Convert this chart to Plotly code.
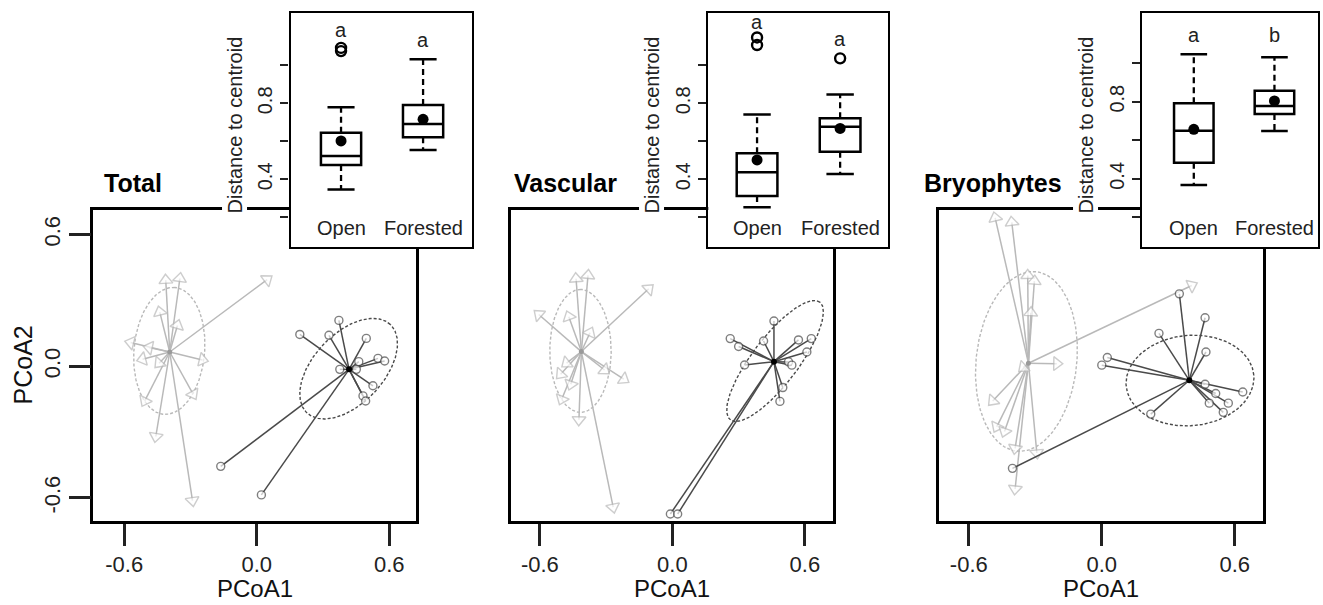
import numpy as np
import plotly.graph_objects as go

W, H = 1323, 605

panel_titles = ["Total", "Vascular", "Bryophytes"]
groups = ["Open", "Forested"]

# ---------------- PCoA scores ----------------
# Total
total_open_centroid = [-0.394, 0.065]
total_open_x = [-0.412, -0.348, 0.047, -0.439, -0.359, -0.571, -0.487, -0.517, -0.442, -0.246, -0.288, -0.507, -0.457, -0.291]
total_open_y = [0.392, 0.400, 0.395, 0.247, 0.186, 0.108, 0.085, 0.032, 0.014, 0.029, -0.127, -0.158, -0.320, -0.612]
total_for_centroid = [0.418, -0.014]
total_for_x = [0.372, 0.195, 0.327, 0.496, 0.462, 0.549, 0.579, 0.376, 0.451, 0.526, 0.481, 0.493, -0.163, 0.021]
total_for_y = [0.209, 0.145, 0.141, 0.127, 0.021, 0.036, 0.024, -0.014, -0.014, -0.089, -0.135, -0.158, -0.456, -0.586]
# ellipse: centre x, centre y, semi-major, semi-minor, angle (deg)
total_open_ellipse = [-0.396, 0.070, 0.29, 0.16, 85]
total_for_ellipse = [0.416, -0.011, 0.276, 0.159, 47]

# Vascular
vasc_open_centroid = [-0.412, 0.067]
vasc_open_x = [-0.436, -0.382, -0.107, -0.605, -0.469, -0.373, -0.479, -0.506, -0.307, -0.220, -0.460, -0.501, -0.423, -0.268]
vasc_open_y = [0.399, 0.414, 0.353, 0.236, 0.226, 0.153, 0.014, -0.036, -0.017, -0.059, -0.082, -0.150, -0.244, -0.642]
vasc_for_centroid = [0.460, 0.021]
vasc_for_x = [0.460, 0.262, 0.300, 0.413, 0.571, 0.629, 0.609, 0.526, 0.541, 0.327, 0.500, 0.487, -0.009, 0.024]
vasc_for_y = [0.206, 0.126, 0.090, 0.115, 0.120, 0.126, 0.065, 0.020, 0.005, 0.006, -0.097, -0.160, -0.673, -0.673]
vasc_open_ellipse = [-0.416, 0.070, 0.28, 0.139, 90]
vasc_for_ellipse = [0.465, 0.024, 0.336, 0.105, 53]

# Bryophytes
bryo_open_centroid = [-0.331, 0.014]
bryo_open_x = [-0.481, -0.406, -0.334, -0.304, -0.320, 0.406, -0.203, -0.354, -0.492, -0.474, -0.439, -0.391, -0.293, -0.391]
bryo_open_y = [0.676, 0.656, 0.414, 0.388, 0.244, 0.368, 0.012, -0.006, -0.158, -0.276, -0.297, -0.374, -0.395, -0.559]
bryo_for_centroid = [0.395, -0.064]
bryo_for_x = [0.350, 0.466, 0.258, 0.470, 0.025, 0.000, 0.466, 0.514, 0.636, 0.485, 0.571, 0.548, 0.221, -0.403]
bryo_for_y = [0.330, 0.221, 0.150, 0.065, 0.040, 0.005, -0.082, -0.124, -0.117, -0.168, -0.168, -0.210, -0.218, -0.465]
bryo_open_ellipse = [-0.340, 0.022, 0.411, 0.227, 84]
bryo_for_ellipse = [0.398, -0.065, 0.289, 0.206, 5]

# ---------------- distance-to-centroid boxplots ----------------
total_lower = [0.347, 0.554]
total_q1 = [0.475, 0.621]
total_median = [0.523, 0.691]
total_q3 = [0.645, 0.791]
total_upper = [0.779, 1.032]
total_mean = [0.602, 0.716]
total_outliers_open = [1.075, 1.092]
total_outliers_for = []
total_letters = ["a", "a"]
total_letter_y = [1.186, 1.133]

vasc_lower = [0.253, 0.428]
vasc_q1 = [0.312, 0.545]
vasc_median = [0.437, 0.677]
vasc_q3 = [0.537, 0.721]
vasc_upper = [0.742, 0.847]
vasc_mean = [0.502, 0.668]
vasc_outliers_open = [1.107, 1.147]
vasc_outliers_for = [1.037]
vasc_letters = ["a", "a"]
vasc_letter_y = [1.228, 1.138]

bryo_lower = [0.368, 0.648]
bryo_q1 = [0.484, 0.736]
bryo_median = [0.650, 0.778]
bryo_q3 = [0.792, 0.857]
bryo_upper = [1.046, 1.030]
bryo_mean = [0.657, 0.804]
bryo_outliers_open = []
bryo_outliers_for = []
bryo_letters = ["a", "b"]
bryo_letter_y = [1.146, 1.146]

main_ticks = [-0.6, 0.0, 0.6]
main_ticktext = ["-0.6", "0.0", "0.6"]
inset_ticks = [0.2, 0.4, 0.6, 0.8, 1.0]
inset_ticktext = ["", "0.4", "", "0.8", ""]

# ---------------- layout geometry ----------------
def px_x(a, b):
    return [a / W, b / W]

def px_y(top, bottom):
    return [1 - bottom / H, 1 - top / H]

main_xdom = [px_x(93.3, 416), px_x(510.7, 832.7), px_x(939.3, 1262.7)]
main_ydom = px_y(210, 521)
main_xrange = [[-0.740, 0.721], [-0.732, 0.726], [-0.733, 0.726]]
main_yrange = [-0.705, 0.712]

inset_xdom = [px_x(290.5, 472.3), px_x(708.3, 888.3), px_x(1141.7, 1318)]
inset_ydom = px_y(13.3, 247)
inset_xrange = [[0.384, 2.60], [0.413, 2.58], [0.354, 2.54]]
inset_yrange = [[0.044, 1.274], [0.044, 1.274], [0.047, 1.258]]
inset_label_y = [0.145, 0.145, 0.147]
ytitle_px = [235, 652, 1086]
title_left_px = [101.7, 511.7, 921.7]

OPEN_COL = "#b9b9b9"
FOR_COL = "#4a4a4a"
FONT = "Arial, Liberation Sans, sans-serif"

fig = go.Figure()

def ellipse_xy(p):
    cx, cy, a, b, ang = p
    t = np.linspace(0, 2 * np.pi, 241)
    th = np.deg2rad(ang)
    x = cx + a * np.cos(t) * np.cos(th) - b * np.sin(t) * np.sin(th)
    y = cy + a * np.cos(t) * np.sin(th) + b * np.sin(t) * np.cos(th)
    return x, y

def spokes(c, xs, ys, size):
    X, Y, S = [], [], []
    for x, y in zip(xs, ys):
        X += [c[0], x, None]
        Y += [c[1], y, None]
        S += [0, size, 0]
    return X, Y, S

panels = [
    (total_open_centroid, total_open_x, total_open_y, total_for_centroid, total_for_x, total_for_y,
     total_open_ellipse, total_for_ellipse),
    (vasc_open_centroid, vasc_open_x, vasc_open_y, vasc_for_centroid, vasc_for_x, vasc_for_y,
     vasc_open_ellipse, vasc_for_ellipse),
    (bryo_open_centroid, bryo_open_x, bryo_open_y, bryo_for_centroid, bryo_for_x, bryo_for_y,
     bryo_open_ellipse, bryo_for_ellipse),
]

boxes = [
    (total_lower, total_q1, total_median, total_q3, total_upper, total_mean,
     total_outliers_open, total_outliers_for, total_letters, total_letter_y),
    (vasc_lower, vasc_q1, vasc_median, vasc_q3, vasc_upper, vasc_mean,
     vasc_outliers_open, vasc_outliers_for, vasc_letters, vasc_letter_y),
    (bryo_lower, bryo_q1, bryo_median, bryo_q3, bryo_upper, bryo_mean,
     bryo_outliers_open, bryo_outliers_for, bryo_letters, bryo_letter_y),
]

annotations = []
layout_axes = {}

for i, (oc, ox, oy, fc, fx, fy, oe, fe) in enumerate(panels):
    n = "" if i == 0 else str(i + 1)
    xa, ya = "x" + n, "y" + n
    # ellipses
    for e, col in ((oe, OPEN_COL), (fe, FOR_COL)):
        ex, ey = ellipse_xy(e)
        fig.add_trace(go.Scatter(x=ex, y=ey, mode="lines", xaxis=xa, yaxis=ya,
                                 line=dict(color=col, width=1.4, dash="3px,2px"),
                                 hoverinfo="skip", showlegend=False))
    # open group spokes with arrow heads
    X, Y, S = spokes(oc, ox, oy, 12)
    fig.add_trace(go.Scatter(x=X, y=Y, mode="lines+markers", xaxis=xa, yaxis=ya,
                             line=dict(color=OPEN_COL, width=1.5),
                             marker=dict(symbol="triangle-up", angleref="previous", size=S,
                                         color="white", line=dict(color=OPEN_COL, width=1.4)),
                             showlegend=False, hoverinfo="skip"))
    # forested group spokes with circles
    X, Y, S = spokes(fc, fx, fy, 8)
    fig.add_trace(go.Scatter(x=X, y=Y, mode="lines+markers", xaxis=xa, yaxis=ya,
                             line=dict(color=FOR_COL, width=1.5),
                             marker=dict(symbol="circle", size=S, color="white",
                                         line=dict(color=FOR_COL, width=1.4)),
                             showlegend=False, hoverinfo="skip"))
    fig.add_trace(go.Scatter(x=[oc[0]], y=[oc[1]], mode="markers", xaxis=xa, yaxis=ya,
                             marker=dict(color="#9a9a9a", size=5), showlegend=False))
    fig.add_trace(go.Scatter(x=[fc[0]], y=[fc[1]], mode="markers", xaxis=xa, yaxis=ya,
                             marker=dict(color="black", size=6), showlegend=False))

    layout_axes["xaxis" + n] = dict(
        domain=main_xdom[i], range=main_xrange[i], anchor=ya,
        showline=True, mirror=True, linecolor="black", linewidth=2.5,
        ticks="outside", ticklen=22, tickwidth=2.5, tickcolor="#222",
        tickvals=main_ticks, ticktext=main_ticktext,
        tickfont=dict(size=22, color="#222", family=FONT),
        showgrid=False, zeroline=False, fixedrange=True)
    ydict = dict(
        domain=main_ydom, range=main_yrange, anchor=xa,
        showline=True, mirror=True, linecolor="black", linewidth=2.5,
        showgrid=False, zeroline=False, fixedrange=True)
    if i == 0:
        ydict.update(ticks="outside", ticklen=22, tickwidth=2.5, tickcolor="#222",
                     tickvals=main_ticks, ticktext=main_ticktext, tickangle=-90,
                     tickfont=dict(size=22, color="#222", family=FONT))
    else:
        ydict.update(ticks="", showticklabels=False)
    layout_axes["yaxis" + n] = ydict

    annotations.append(dict(text="PCoA1", xref=xa + " domain", x=0.5, yref="paper",
                            y=1 - 588 / H, showarrow=False, xanchor="center", yanchor="middle",
                            font=dict(size=24, color="#111", family=FONT)))
    annotations.append(dict(text="<b>" + panel_titles[i] + "</b>", xref="paper",
                            x=title_left_px[i] / W, yref="paper", y=1 - 183 / H,
                            showarrow=False, xanchor="left", yanchor="middle",
                            font=dict(size=25, color="black", family=FONT)))

annotations.append(dict(text="PCoA2", xref="paper", x=22 / W, yref="y domain", y=0.5,
                        showarrow=False, textangle=-90, xanchor="center", yanchor="middle",
                        font=dict(size=25, color="#111", family=FONT)))

# ---------------- insets ----------------
for i, (lo, q1, med, q3, up, mn, out_o, out_f, letters, ly) in enumerate(boxes):
    n = str(i + 4)
    xa, ya = "x" + n, "y" + n
    pos = [1, 2]
    bw = 0.49
    cap = 0.33
    for k in range(2):
        fig.add_trace(go.Box(x=[pos[k]], q1=[q1[k]], median=[med[k]], q3=[q3[k]],
                             lowerfence=[q1[k]], upperfence=[q3[k]], width=bw,
                             whiskerwidth=0, fillcolor="white",
                             line=dict(color="black", width=2.5), boxpoints=False,
                             xaxis=xa, yaxis=ya, showlegend=False, hoverinfo="skip"))
        fig.add_trace(go.Scatter(x=[pos[k], pos[k], None, pos[k], pos[k]],
                                 y=[q3[k], up[k], None, q1[k], lo[k]],
                                 mode="lines", line=dict(color="black", width=2.3, dash="6px,4px"),
                                 xaxis=xa, yaxis=ya, showlegend=False, hoverinfo="skip"))
        fig.add_trace(go.Scatter(x=[pos[k] - cap / 2, pos[k] + cap / 2, None,
                                    pos[k] - cap / 2, pos[k] + cap / 2],
                                 y=[up[k], up[k], None, lo[k], lo[k]],
                                 mode="lines", line=dict(color="black", width=2.5),
                                 xaxis=xa, yaxis=ya, showlegend=False, hoverinfo="skip"))
    fig.add_trace(go.Scatter(x=pos, y=mn, mode="markers", xaxis=xa, yaxis=ya,
                             marker=dict(color="black", size=11), showlegend=False))
    ox = [1] * len(out_o) + [2] * len(out_f)
    oy = list(out_o) + list(out_f)
    if oy:
        fig.add_trace(go.Scatter(x=ox, y=oy, mode="markers", xaxis=xa, yaxis=ya,
                                 marker=dict(symbol="circle-open", color="black", size=10,
                                             line=dict(width=2.4)),
                                 showlegend=False))
    for k in range(2):
        annotations.append(dict(text=letters[k], xref=xa, yref=ya, x=pos[k], y=ly[k],
                                showarrow=False, xanchor="center", yanchor="middle",
                                font=dict(size=20, color="#222", family=FONT)))
        annotations.append(dict(text=groups[k], xref=xa, yref=ya, x=pos[k], y=inset_label_y[i],
                                showarrow=False, xanchor="center", yanchor="middle",
                                font=dict(size=20, color="#222", family=FONT)))
    annotations.append(dict(text="Distance to centroid", xref="paper", x=ytitle_px[i] / W,
                            yref=ya + " domain", y=0.52, showarrow=False, textangle=-90,
                            xanchor="center", yanchor="middle", bgcolor="white", borderpad=1,
                            font=dict(size=20, color="#222", family=FONT)))

    layout_axes["xaxis" + n] = dict(
        domain=inset_xdom[i], range=inset_xrange[i], anchor=ya,
        showline=True, mirror=True, linecolor="black", linewidth=2.2,
        ticks="", showticklabels=False, showgrid=False, zeroline=False, fixedrange=True)
    layout_axes["yaxis" + n] = dict(
        domain=inset_ydom, range=inset_yrange[i], anchor=xa,
        showline=True, mirror=True, linecolor="black", linewidth=2.2,
        ticks="outside", ticklen=8, tickwidth=2.2, tickcolor="#222",
        tickvals=inset_ticks, ticktext=inset_ticktext, tickangle=-90,
        tickfont=dict(size=20, color="#222", family=FONT),
        showgrid=False, zeroline=False, fixedrange=True)

fig.update_layout(
    width=W, height=H, autosize=False,
    margin=dict(l=0, r=0, t=0, b=0),
    paper_bgcolor="white", plot_bgcolor="white",
    showlegend=False,
    font=dict(family=FONT, color="#222"),
    annotations=annotations,
    **layout_axes,
)

fig.write_html("out.html")
